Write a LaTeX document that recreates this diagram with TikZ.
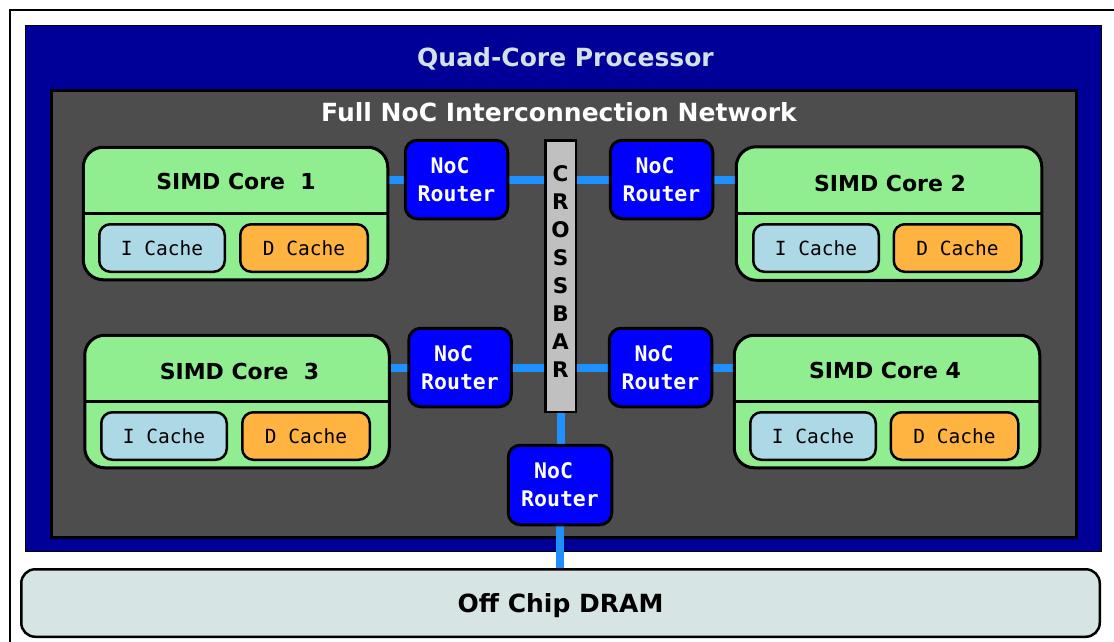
\documentclass[tikz,border=0pt]{standalone}
\usepackage{fontspec}
\setmainfont{DejaVu Sans}
\setmonofont{DejaVu Sans Mono}
\definecolor{procblue}{HTML}{000099}
\definecolor{nocgray}{HTML}{4D4D4D}
\definecolor{corefill}{HTML}{90EE90}
\definecolor{icache}{HTML}{ADD8E6}
\definecolor{dcache}{HTML}{FFB340}
\definecolor{routerblue}{HTML}{0000FF}
\definecolor{linkblue}{HTML}{1E90FF}
\definecolor{xbargray}{HTML}{C0C0C0}
\definecolor{dramfill}{HTML}{D6E4E4}
\definecolor{titlefg}{HTML}{D3E0E6}
\pgfdeclarelayer{bg}
\pgfdeclarelayer{links}
\pgfsetlayers{bg,links,main}
\begin{document}
\begin{tikzpicture}[x=1pt,y=-1pt,
  box/.style={draw=black, inner sep=0pt, outer sep=0pt},
  core/.style={box, line width=3pt, fill=corefill, rounded corners=20pt},
  cachebox/.style={box, line width=2.5pt, rounded corners=11pt, minimum height=47.5pt,
    font=\ttfamily\fontsize{19.5}{23}\selectfont},
  icachebox/.style={cachebox, fill=icache, minimum width=125.5pt},
  dcachebox/.style={cachebox, fill=dcache, minimum width=127.5pt},
  router/.style={box, line width=3pt, fill=routerblue, rounded corners=12pt,
    minimum width=102.5pt, minimum height=78.5pt, text=white, align=center,
    font=\ttfamily\bfseries\fontsize{21.5}{28}\selectfont},
  link/.style={draw=linkblue, line width=8pt},
  coretitle/.style={font=\bfseries\fontsize{22}{26}\selectfont, inner sep=0pt, anchor=base},
  bigtitle/.style={font=\bfseries\fontsize{25}{30}\selectfont, inner sep=0pt, anchor=base},
  divider/.style={draw=black, line width=2.5pt}
]
\useasboundingbox (0,0) rectangle (1114,641);
\clip (0,0) rectangle (1114,641);

% enclosing frame, running past the page edge on the right and bottom
\draw[line width=1.5pt] (10,10) rectangle (1140,670);

\begin{pgfonlayer}{bg}
  \node[box, line width=1.5pt, fill=procblue, minimum width=1076pt, minimum height=526pt]
    (proc) at (563.5,288.5) {};
  \node[box, line width=3pt, fill=nocgray, minimum width=1025.5pt, minimum height=447.5pt]
    (noc) at (564,314) {};
\end{pgfonlayer}

\node[bigtitle, text=titlefg] (proctitle) at (565.5,66) {Quad-Core Processor};
\node[bigtitle, text=white] (noctitle) at (559,121) {Full NoC Interconnection Network};

% off-chip memory
\node[box, line width=2.5pt, fill=dramfill, rounded corners=14pt,
  minimum width=1078.5pt, minimum height=67.5pt] (dram) at (560.5,603) {};
\node[bigtitle] (dramtitle) at (560.5,612) {Off Chip DRAM};

% SIMD cores
\node[core, minimum width=304.5pt, minimum height=132.5pt] (core1) at (235.5,213.5) {};
\draw[divider] (core1.west) -- (core1.east);
\node[coretitle] (core1t) at (236,189) {SIMD Core\ \ 1};
\node[icachebox] (ic1) at (162,248) {I Cache};
\node[dcachebox] (dc1) at (304,248) {D Cache};

\node[core, minimum width=305.5pt, minimum height=133.5pt] (core2) at (889,213.5) {};
\draw[divider] (core2.west) -- (core2.east);
\node[coretitle] (core2t) at (890,191) {SIMD Core 2};
\node[icachebox] (ic2) at (816,248) {I Cache};
\node[dcachebox] (dc2) at (957.5,248) {D Cache};

\node[core, minimum width=304.5pt, minimum height=132.5pt] (core3) at (237,401.5) {};
\draw[divider] (core3.west) -- (core3.east);
\node[coretitle] (core3t) at (239.5,379) {SIMD Core\ \ 3};
\node[icachebox] (ic3) at (164,436) {I Cache};
\node[dcachebox] (dc3) at (306,436) {D Cache};

\node[core, minimum width=305.5pt, minimum height=132.5pt] (core4) at (887,401.5) {};
\draw[divider] (core4.west) -- (core4.east);
\node[coretitle] (core4t) at (885,378) {SIMD Core 4};
\node[icachebox] (ic4) at (813,436) {I Cache};
\node[dcachebox] (dc4) at (954.5,436) {D Cache};

% crossbar
\node[box, line width=2.5pt, fill=xbargray, minimum width=30.5pt, minimum height=271.5pt]
  (xbar) at (560.5,276) {};
\node[align=center, inner sep=0pt, font=\bfseries\fontsize{21.5}{28}\selectfont]
  (xbart) at (560.5,271.5) {C\\R\\O\\S\\S\\B\\A\\R};

% routers
\node[router] (r1) at (456.5,179.5) {NoC\hphantom{x}\\Router};
\node[router] (r2) at (661.5,179.5) {NoC\hphantom{x}\\Router};
\node[router] (r3) at (460,367.5) {NoC\hphantom{x}\\Router};
\node[router] (r4) at (660.5,367.5) {NoC\hphantom{x}\\Router};
\node[router, minimum width=103.5pt, minimum height=79.5pt] (r5) at (560,485) {NoC\hphantom{x}\\Router};

% interconnect links
\begin{pgfonlayer}{links}
  \draw[link] (r1.west -| core1.east) -- (r1.west);
  \draw[link] (r1.east) -- (r1.east -| xbar.west);
  \draw[link] (r2.west -| xbar.east) -- (r2.west);
  \draw[link] (r2.east) -- (r2.east -| core2.west);
  \draw[link] (r3.west -| core3.east) -- (r3.west);
  \draw[link] (r3.east) -- (r3.east -| xbar.west);
  \draw[link] (r4.west -| xbar.east) -- (r4.west);
  \draw[link] (r4.east) -- (r4.east -| core4.west);
  \draw[link] (xbar.south) -- (xbar.south |- r5.north);
  \draw[link] (r5.south) -- (r5.south |- dram.north);
\end{pgfonlayer}
\end{tikzpicture}
\end{document}
